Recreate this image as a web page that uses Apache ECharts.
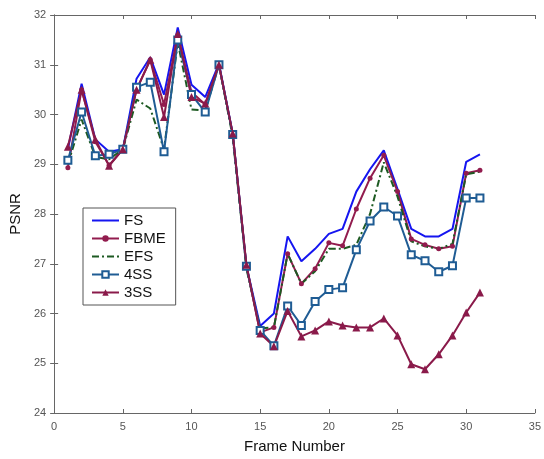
<!DOCTYPE html>
<html>
<head>
<meta charset="UTF-8">
<script src="https://cdn.jsdelivr.net/npm/echarts@6/dist/echarts.min.js"></script>
<style>
  html, body { margin: 0; padding: 0; background: #fff; }
  #chart { width: 544px; height: 459px; }
</style>
</head>
<body>
<div id="chart"></div>
<script>
// frame numbers 1..31
var frames = [1,2,3,4,5,6,7,8,9,10,11,12,13,14,15,16,17,18,19,20,21,22,23,24,25,26,27,28,29,30,31];

var fs   = [29.3, 30.62, 29.5, 29.25, 29.3, 30.72, 31.15, 30.4, 31.75, 30.6, 30.35, 31.02, 29.62, 26.95, 25.75, 26.0, 27.55, 27.05, 27.3, 27.6, 27.7, 28.45, 28.9, 29.28, 28.5, 27.7, 27.55, 27.55, 27.7, 29.05, 29.2];
var fbme = [28.93, 30.5, 29.45, 28.98, 29.3, 30.5, 31.1, 30.2, 31.6, 30.45, 30.2, 31.0, 29.6, 26.95, 25.62, 25.72, 27.2, 26.6, 26.9, 27.42, 27.36, 28.1, 28.72, 29.18, 28.45, 27.5, 27.38, 27.3, 27.35, 28.82, 28.88];
var efs  = [29.0, 29.9, 29.15, 29.1, 29.3, 30.3, 30.12, 29.3, 31.45, 30.1, 30.08, 31.0, 29.55, 26.9, 25.7, 25.72, 27.2, 26.6, 26.85, 27.3, 27.3, 27.38, 28.0, 29.04, 28.35, 27.45, 27.35, 27.3, 27.4, 28.8, 28.85];
var ss4  = [29.08, 30.05, 29.17, 29.2, 29.3, 30.55, 30.65, 29.25, 31.5, 30.4, 30.05, 31.0, 29.6, 26.95, 25.66, 25.35, 26.15, 25.76, 26.24, 26.48, 26.52, 27.28, 27.86, 28.14, 27.96, 27.18, 27.06, 26.84, 26.96, 28.32, 28.32];
var ss3  = [29.35, 30.5, 29.5, 28.97, 29.3, 30.5, 31.1, 29.95, 31.62, 30.35, 30.22, 31.0, 29.62, 26.98, 25.6, 25.34, 26.05, 25.54, 25.66, 25.84, 25.76, 25.72, 25.72, 25.9, 25.56, 24.98, 24.88, 25.18, 25.56, 26.02, 26.42];

function pairs(vals) {
  return frames.map(function (f, i) { return [f, vals[i]]; });
}

var chart = echarts.init(document.getElementById('chart'));

var axisLine = { show: true, lineStyle: { color: '#666', width: 1 } };
var tick = { show: true, inside: true, length: 4, lineStyle: { color: '#666' } };
var lbl = { color: '#555', fontSize: 11, fontFamily: 'Liberation Sans' };

var option = {
  backgroundColor: '#fff',
  animation: false,
  grid: { left: 54, top: 15, right: 5, bottom: 44 },
  legend: {
    orient: 'vertical',
    left: 83,
    top: 208,
    padding: [4, 10, 4, 8],
    itemGap: 1,
    itemWidth: 27,
    itemHeight: 8,
    borderColor: '#555',
    borderWidth: 1,
    backgroundColor: '#fff',
    textStyle: { fontSize: 15, lineHeight: 17, color: '#111', fontFamily: 'Liberation Sans' },
    data: [
      { name: 'FS', itemStyle: { opacity: 0 } },
      { name: 'FBME' },
      { name: 'EFS', itemStyle: { opacity: 0 } },
      { name: '4SS' },
      { name: '3SS' }
    ]
  },
  xAxis: [{
    type: 'value', min: 0, max: 35, interval: 5,
    name: 'Frame Number', nameLocation: 'middle', nameGap: 26,
    nameTextStyle: { fontSize: 15, color: '#111', fontFamily: 'Liberation Sans' },
    axisLine: axisLine, axisTick: tick, axisLabel: lbl, splitLine: { show: false }
  }, {
    type: 'value', min: 0, max: 35, interval: 5, position: 'top',
    axisLine: axisLine, axisTick: tick, axisLabel: { show: false }, splitLine: { show: false }
  }],
  yAxis: [{
    type: 'value', min: 24, max: 32, interval: 1,
    name: 'PSNR', nameLocation: 'middle', nameGap: 30,
    nameTextStyle: { fontSize: 15, color: '#111', fontFamily: 'Liberation Sans' },
    axisLine: axisLine, axisTick: tick, axisLabel: lbl, splitLine: { show: false }
  }, {
    type: 'value', min: 24, max: 32, interval: 1, position: 'right',
    axisLine: axisLine, axisTick: tick, axisLabel: { show: false }, splitLine: { show: false }
  }],
  series: [{
    name: 'FS', type: 'line', data: pairs(fs),
    showSymbol: false, symbol: 'none',
    lineStyle: { color: '#1515f0', width: 2 }, itemStyle: { color: '#1515f0' }
  }, {
    name: 'FBME', type: 'line', data: pairs(fbme),
    symbol: 'circle', symbolSize: 5,
    lineStyle: { color: '#921c4e', width: 2 }, itemStyle: { color: '#921c4e' }
  }, {
    name: 'EFS', type: 'line', data: pairs(efs),
    symbol: 'none',
    lineStyle: { color: '#1d5a22', width: 2, type: [7, 3, 2, 3] }, itemStyle: { color: '#1d5a22' }
  }, {
    name: '4SS', type: 'line', data: pairs(ss4),
    symbol: 'emptyRect', symbolSize: 7,
    lineStyle: { color: '#1f5c94', width: 2 }, itemStyle: { color: '#1f5c94', borderWidth: 1.5 }
  }, {
    name: '3SS', type: 'line', data: pairs(ss3),
    symbol: 'triangle', symbolSize: 8,
    lineStyle: { color: '#8a1a4a', width: 2 }, itemStyle: { color: '#8a1a4a' }
  }]
};

chart.setOption(option);
</script>
</body>
</html>
